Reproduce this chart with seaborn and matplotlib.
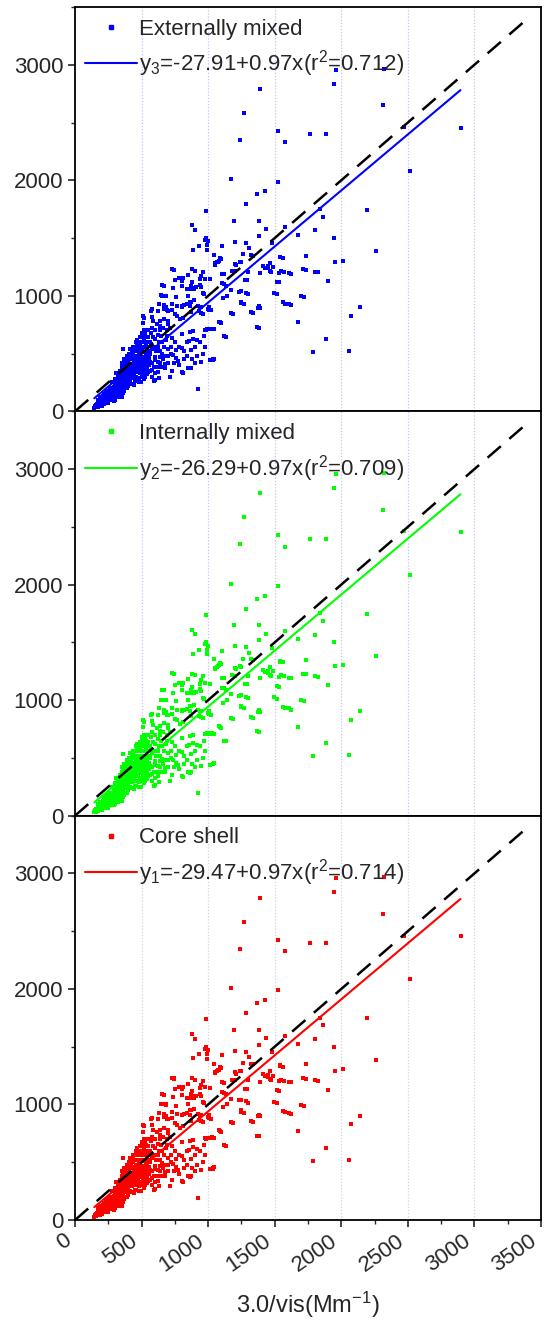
import matplotlib
matplotlib.use("Agg")
import matplotlib.pyplot as plt
from matplotlib.lines import Line2D
from matplotlib.ticker import MultipleLocator
from matplotlib.transforms import ScaledTranslation
import seaborn as sns
import numpy as np

# ---------------- data ----------------
pts_sparse = [
    (1963,2957),(2322,2965),(1948,2835),(1390,2791),(1270,2583),(2317,2649),(2474,2461),(2901,2455),
    (1526,2426),(1243,2348),(1762,2397),(1885,2397),(1581,2328),(2516,2084),(1170,2009),(1526,1988),
    (1366,1878),(1424,1904),(1283,1791),(987,1736),(2194,1745),(1838,1751),(1859,1684),(1191,1649),
    (1382,1649),(880,1609),(903,1571),(1432,1574),(1806,1568),(1579,1597),(1675,1525),(1380,1519),
    (1942,1499),(984,1499),(997,1472),(1204,1467),(1288,1458),(932,1435),(1105,1429),(887,1400),
    (1309,1412),(1479,1455),(2259,1386),(1340,1348),(1094,1316),(1065,1290),(1080,1300),(1050,1270),
    (1537,1333),(1565,1327),(1733,1348),(2013,1304),(1950,1293),(1246,1290),(1212,1267),(1450,1255),
    (1430,1245),(1490,1250),(1120,1188),(1202,1212),(1296,1209),(1393,1194),(1466,1217),(1568,1206),
    (1623,1191),(1736,1223),(1825,1203),(746,1223),(1131,1087),(1013,1142),(1293,1136),(1534,1116),
    (1903,1128),(1144,1000),(1230,1035),(1298,1017),(1516,1014),(1717,991),(1267,928),(1382,913),
    (1393,896),(1579,933),(1626,919),(1188,841),(1338,849),(1021,875),(1099,762),(1013,710),
    (1045,710),(987,704),(1131,643),(1382,725),(1678,771),(2071,829),(2139,904),(1885,626),
    (1785,513),(2060,522),(1034,443),(1045,455),(927,194),(864,371),
]
pts_mid = [
    (1178,1214),(1105,1191),(1120,1101),(1172,1050),(1248,1041),(1288,1026),(1108,977),(1275,1136),
    (1250,948),(1323,856),(1378,896),(1365,729),(1175,847),(1088,769),(970,648),(988,714),
    (1013,714),(1030,717),(1013,442),(1033,451),(1118,648),(1563,943),(1608,928),(1493,1023),
    (1518,1121),(1698,997),(1413,1261),(1468,1286),(1450,1237),(1475,1208),(1538,1339),(1545,1214),
    (1605,1194),(1713,1229),(1800,1209),(1260,1358),(1320,1353),(1238,1292),(1198,1277),(1043,1353),
    (1050,1281),(1075,1295),(1088,1324),(962,1205),(975,1147),(945,1075),(950,905),(1000,890),
    (962,846),(975,1483),(988,1437),(988,1396),(1083,775),(1250,939),(1107,1108),(1533,1199),
]
pts_upper_cluster = [
    (730,1231),(875,1229),(900,1215),(812,1151),(845,1180),(948,1171),(938,1142),(780,1150),
    (748,1133),(657,1090),(733,1064),(805,1084),(870,1087),(880,1070),(895,1060),(860,1060),
    (942,1093),(643,1003),(680,997),(757,991),(850,1000),(863,948),(963,1020),(732,933),
    (670,919),(680,900),(690,875),(665,890),(700,870),(767,916),(802,905),(815,918),
    (840,925),(865,910),(925,916),(1005,905),(1008,880),(950,853),(580,882),(625,871),
    (512,824),(580,820),(767,824),(810,810),(870,861),(930,865),(670,1084),(743,1226),
    (652,1000),(685,1000),(804,1130),(843,1058),(877,1116),(908,1072),(969,1014),(895,960),
    (870,950),(942,904),(804,913),(751,841),(725,880),(699,783),(785,797),(890,696),
    (916,614),(856,609),(804,551),(772,435),(725,348),(809,333),(869,377),(673,377),
    (634,290),(594,261),(654,493),(581,551),(568,870),(634,928),(586,783),(516,812),
    (529,667),(505,650),(432,536),(359,536),
]
pts_dense = [
    (140,30),(150,45),(160,35),(165,60),(170,40),(175,55),(180,70),(185,45),(190,80),(195,60),
    (200,50),(205,95),(210,75),(215,110),(220,65),(225,90),(230,120),(235,80),(240,100),(245,140),
    (250,70),(250,115),(255,130),(260,95),(262,160),(268,110),(270,180),(275,140),(280,120),(285,200),
    (288,155),(290,90),(295,175),(300,220),(300,135),(305,190),(310,250),(312,160),(318,210),(320,120),
    (325,240),(328,180),(330,280),(335,200),(338,150),(340,260),(345,230),(348,300),(350,190),
    (355,270),(358,320),(360,220),(362,245),(365,350),(368,290),(370,180),(372,260),(375,330),(378,380),
    (380,240),(383,300),(385,420),(388,350),(390,280),(392,200),(395,370),(398,320),(400,430),(400,260),
    (403,390),(405,340),(408,300),(410,470),(412,360),(415,250),(418,410),(420,330),(422,380),(425,290),
    (428,450),(430,400),(432,350),(435,310),(438,500),(440,420),(442,370),(445,330),(448,260),(450,440),
    (452,390),(455,350),(458,480),(460,300),(462,420),(465,560),(468,380),(470,340),(472,450),(475,400),
    (478,290),(480,510),(482,430),(485,370),(488,600),(490,330),(492,460),(495,410),(498,250),(500,380),
    (502,520),(505,440),(508,360),(510,400),(512,650),(515,330),(518,470),(520,420),(522,390),(525,560),
    (528,300),(530,450),(532,410),(535,600),(538,370),(540,480),(545,430),(548,340),(550,520),(555,400),
    (558,460),(462,587),(532,594),(487,573),(500,679),(530,645),(512,766),(600,624),(637,737),(637,471),
    (600,442),(675,413),(600,269),(640,700),(562,510),(570,580),(585,640),(590,380),(610,520),(620,560),
    (630,600),(645,650),(655,480),(665,560),(680,620),(690,700),(700,757),(725,639),(737,485),(762,529),
    (717,298),(800,341),(850,378),(800,673),(862,688),(887,630),(975,708),(700,540),(750,600),(780,560),
    (820,520),(840,600),(870,530),(900,560),(940,600),(960,500),(700,420),(650,380),(620,340),(580,300),
    (450,356),(400,428),(375,400),(350,380),(400,360),(362,240),(350,124),(250,100),(300,160),(225,95),
    (150,38),(175,80),(200,110),(237,130),(287,180),(330,230),(345,270),(360,300),(420,290),(440,380),
    (460,360),(480,400),(500,420),(520,350),(540,400),(560,430),(580,420),(600,470),(620,430),(640,520),
    (410,320),(390,340),(370,310),(330,250),(310,200),(290,170),(270,150),(250,140),(230,100),(210,90),
    (190,70),(170,50),(160,55),(155,40),(185,60),(215,80),(245,110),(265,130),(285,140),(305,170),
    (260,200),(280,250),(300,280),(310,330),(320,300),(335,350),(340,320),(350,420),(360,400),(370,450),
    (380,430),(390,480),(395,460),(405,500),(415,540),(420,480),(425,520),(435,560),(445,520),(455,600),
    (465,620),(470,520),(480,560),(490,640),(500,600),(505,560),(515,700),(520,620),(525,660),(540,560),
    (545,700),(550,640),(560,600),(570,680),(575,720),(590,560),(600,700),(615,760),(625,660),(640,780),
    (650,600),(660,720),(670,800),(690,650),(710,720),(720,560),
    (300,100),(320,150),(340,180),(360,160),(380,200),(400,220),(420,240),(440,230),(460,260),(480,250),
    (500,300),(520,280),(540,320),(560,350),(580,360),(600,330),(620,380),(640,420),(660,450),(680,480),
    (700,480),(720,500),(740,420),(760,460),(780,400),(820,450),(840,480),(880,450),(900,420),(920,480),
    (950,430),(980,560),
    (175,100),(190,120),(200,90),(210,130),(220,150),(230,170),(240,180),(250,160),(265,170),(280,190),
    (295,210),(310,230),(325,260),(340,290),(355,310),(370,340),(385,360),(395,400),(410,380),(425,410),
    (440,460),(455,420),(470,480),(485,500),(500,470),(515,510),(530,500),(545,520),(560,500),(575,540),
]

all_pts = pts_sparse + pts_mid + pts_upper_cluster + pts_dense
vis_x = [p[0] for p in all_pts]          # 3.0/vis (Mm-1)
pm_y = [p[1] for p in all_pts]           # model extinction

series_labels = ["Externally mixed", "Internally mixed", "Core shell"]
series_colors = ["#0000ff", "#00ff00", "#ff0000"]
fit_labels = ["y$_3$=-27.91+0.97x(r$^2$=0.712)",
              "y$_2$=-26.29+0.97x(r$^2$=0.709)",
              "y$_1$=-29.47+0.97x(r$^2$=0.714)"]
fit_intercepts = [-27.91, -26.29, -29.47]
fit_slopes = [0.97, 0.97, 0.97]
fit_xrange = [145, 2895]
one_to_one = [0, 3400]
x_ticks = [0, 500, 1000, 1500, 2000, 2500, 3000, 3500]
y_ticks = [0, 1000, 2000, 3000]
grid_colors = ["#c4c4f4", "#c4c4f4", "#d4d4d4"]

# ---------------- style ----------------
sns.set_style("ticks")
plt.rcParams["font.family"] = ["Liberation Sans", "DejaVu Sans"]
plt.rcParams["mathtext.fontset"] = "custom"
plt.rcParams["mathtext.rm"] = "Liberation Sans"
plt.rcParams["mathtext.it"] = "Liberation Sans"
plt.rcParams["mathtext.default"] = "regular"

fig = plt.figure(figsize=(5.44, 13.24), dpi=100)
left, right = 75/544, 541/544
top, bottom = 1 - 7/1324, 1 - 1220/1324
h = (top - bottom) / 3

for i in range(3):
    ax = fig.add_axes([left, top - (i + 1) * h, right - left, h])
    for gx in x_ticks[1:-1]:
        ax.axvline(gx, color=grid_colors[i], linestyle=(0, (1, 1.5)), linewidth=0.9, zorder=0)
    sns.scatterplot(x=vis_x, y=pm_y, ax=ax, marker="s", s=10, color=series_colors[i],
                    linewidth=0, zorder=3)
    ax.plot(one_to_one, one_to_one, color="black", linestyle=(0, (7, 4.5)), linewidth=1.8, zorder=4)
    fx = np.array(fit_xrange, dtype=float)
    ax.plot(fx, fit_intercepts[i] + fit_slopes[i] * fx, color=series_colors[i], linewidth=1.5, zorder=5)

    ax.set_xlim(0, 3500)
    ax.set_ylim(0, 3500)
    ax.set_yticks(y_ticks)
    ax.yaxis.set_minor_locator(MultipleLocator(500))
    ax.set_xticks(x_ticks)
    ax.xaxis.set_minor_locator(MultipleLocator(250))
    ax.tick_params(axis="both", which="major", direction="out", length=5, width=1.2, labelsize=16)
    ax.tick_params(axis="both", which="minor", direction="out", length=3, width=1.0)
    for sp in ax.spines.values():
        sp.set_linewidth(1.3)
        sp.set_color("black")
        sp.set_visible(True)
    if i < 2:
        ax.tick_params(axis="x", which="both", bottom=False, labelbottom=False)
    else:
        off = ScaledTranslation(-6/100, -7/100, fig.dpi_scale_trans)
        for lab in ax.get_xticklabels():
            lab.set_rotation(35)
            lab.set_ha("right")
            lab.set_va("center")
            lab.set_rotation_mode("anchor")
            lab.set_transform(lab.get_transform() + off)
        ax.set_xlabel("3.0/vis(Mm$^{-1}$)", fontsize=17, labelpad=10)
    handles = [
        Line2D([], [], linestyle="none", marker="s", markersize=3.2, color=series_colors[i]),
        Line2D([], [], color=series_colors[i], linewidth=1.5),
    ]
    ax.legend(handles, [series_labels[i], fit_labels[i]], loc="upper left",
              bbox_to_anchor=(0.007, 0.9876), frameon=False, fontsize=16,
              handlelength=2.35, handletextpad=0.1, labelspacing=0.4, borderaxespad=0.1,
              borderpad=0.2)

fig.savefig("out.png", dpi=100)
